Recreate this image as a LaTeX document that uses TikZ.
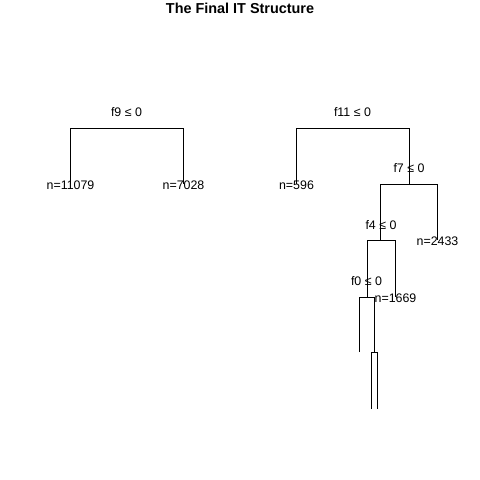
\documentclass[tikz,border=0pt]{standalone}
\usepackage{fontspec}
\setmainfont{Liberation Sans}
\begin{document}
\begin{tikzpicture}[x=1pt,y=-1pt,
  edge/.style={draw=black,line width=1.25pt},
  lab/.style={inner sep=0pt,font=\fontsize{12.4}{14}\selectfont},
  ttl/.style={inner sep=0pt,font=\fontsize{14.4}{16}\selectfont\bfseries}]
\useasboundingbox[fill=white] (0,0) rectangle (480,480);
\node[ttl] (title) at (240,8) {The Final IT Structure};
% tree 1
\coordinate (p1) at (126.5,128.5);
\coordinate (a1) at (70.5,184);
\coordinate (a2) at (183.5,184);
\node[lab] (s1) at (126.5,112) {f9 ≤ 0};
\node[lab] (n1) at (70.5,185) {n=11079};
\node[lab] (n2) at (183.5,185) {n=7028};
\draw[edge] (a1) |- (p1) -| (a2);
% tree 2
\coordinate (p2) at (352.5,128.5);
\coordinate (b1) at (296.5,184);
\coordinate (p3) at (409.5,184.5);
\coordinate (p4) at (380.5,240.5);
\coordinate (b2) at (437.5,240);
\coordinate (p5) at (367.5,297.5);
\coordinate (b3) at (395.5,297);
\coordinate (b4) at (359.5,352);
\coordinate (p6) at (374.5,352.5);
\coordinate (b5) at (371.5,409);
\coordinate (b6) at (377.5,409);
\node[lab] (s2) at (352.5,112) {f11 ≤ 0};
\node[lab] (s3) at (409,168) {f7 ≤ 0};
\node[lab] (s4) at (381,225) {f4 ≤ 0};
\node[lab] (s5) at (366.5,281) {f0 ≤ 0};
\node[lab] (m1) at (296.5,185) {n=596};
\node[lab] (m2) at (437.5,241) {n=2433};
\node[lab] (m3) at (395.5,298) {n=1669};
\draw[edge] (b1) |- (p2) -| (p3);
\draw[edge] (p4) |- (p3) -| (b2);
\draw[edge] (p5) |- (p4) -| (b3);
\draw[edge] (b4) |- (p5) -| (p6);
\draw[edge] (b5) |- (p6) -| (b6);
\end{tikzpicture}
\end{document}
